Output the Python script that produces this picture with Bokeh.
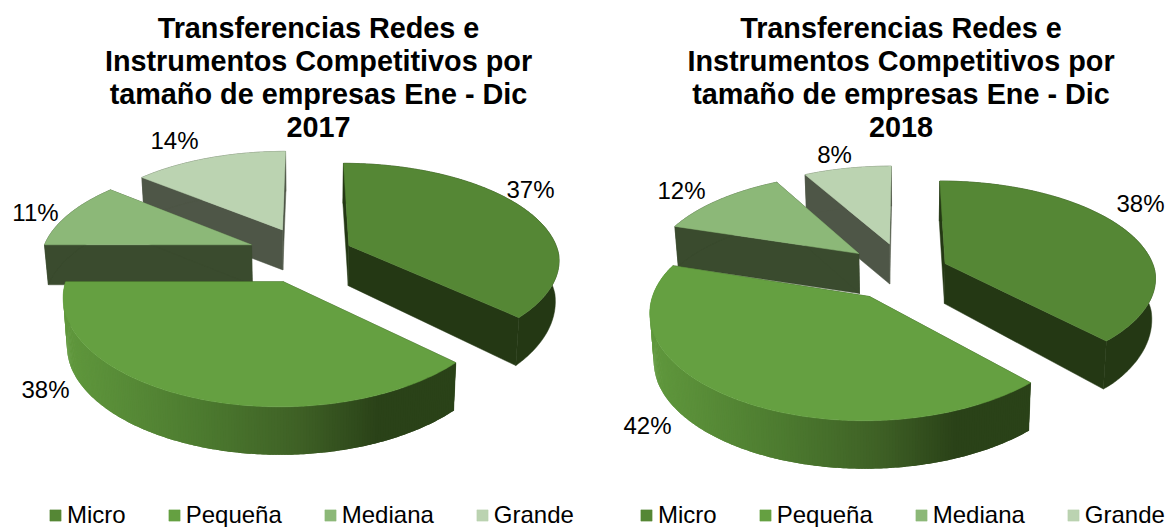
import math
from bokeh.core.properties import value
from bokeh.embed import file_html
from bokeh.layouts import row
from bokeh.models import Legend, LegendItem, Range1d
from bokeh.plotting import figure
from bokeh.resources import INLINE

# ---- data ----
CATEGORIES = ["Micro", "Pequeña", "Mediana", "Grande"]
SHARES_2017 = [37, 38, 11, 14]
SHARES_2018 = [38, 42, 12, 8]
TITLE_LINES = ["Transferencias Redes e", "Instrumentos Competitivos por", "tamaño de empresas Ene - Dic"]
YEARS = ["2017", "2018"]

# ---- style ----
TOP = ["#558735", "#65a041", "#8cb878", "#bbd3b1"]
WALL = ["#243814", "#2a4218", "#3a4b2e", "#4e5647"]
GRADIENT = [(0.0, (0x60, 0x98, 0x3d)), (0.35, (0x4c, 0x7a, 0x2f)), (0.6, (0x3e, 0x60, 0x25)),
            (0.8, (0x2a, 0x42, 0x18)), (1.0, (0x2a, 0x42, 0x18))]
DRAW_ORDER = [3, 2, 0, 1]
RX, RY, PERSP, PERSP_X_FRONT, DEPTH, DEPTH_FRONT, NARROW = 210, 97, 0.15, 0.13, 40, 8, 0.015
FONT = "Liberation Sans"


def grad(t):
    for (a, ca), (b, cb) in zip(GRADIENT, GRADIENT[1:]):
        if t <= b:
            f = (t - a) / (b - a)
            return "#%02x%02x%02x" % tuple(round(u + (v - u) * f) for u, v in zip(ca, cb))
    return "#2a4218"


def draw_pie(p, shares, cx, cy, explode, year, title_x, legend_x, labels):
    def proj(x, y, z):
        d = 1 + PERSP * y
        dx = 1 + (PERSP if y > 0 else PERSP_X_FRONT) * y
        h = DEPTH + DEPTH_FRONT * min(1, max(0, -y) / 0.6)
        return cx + RX * x / dx / (1 + NARROW * z), cy - RY * y / d + h * z

    total = sum(shares)
    edges = [0]
    for s in shares:
        edges.append(edges[-1] + 360 * s / total)

    tops = {}
    for i in DRAW_ORDER:
        a0, a1 = math.radians(edges[i]), math.radians(edges[i + 1])
        mid = (a0 + a1) / 2
        ox, oy = explode[i] * math.sin(mid), explode[i] * math.cos(mid)
        n = max(4, int((edges[i + 1] - edges[i]) * 1.5))
        angs = [a0 + (a1 - a0) * k / n for k in range(n + 1)]
        rim = [(ox + math.sin(a), oy + math.cos(a)) for a in angs]
        apex = (ox, oy)

        # radial walls
        for e in (rim[0], rim[-1]):
            pts = [proj(*apex, 0), proj(*e, 0), proj(*e, 1), proj(*apex, 1)]
            p.patch([q[0] for q in pts], [q[1] for q in pts], fill_color=WALL[i], line_color=WALL[i], line_width=0.5)

        # outer wall
        upper = [proj(*r, 0) for r in rim]
        lower = [proj(*r, 1) for r in rim]
        if i == 1:
            # shaded strip by strip from left to right, each overlapping the next to hide seams
            lo, hi = min(q[0] for q in upper), max(q[0] for q in upper)
            for k in range(n, 0, -1):
                k2 = max(0, k - 2)
                xs = [upper[k][0], upper[k - 1][0], upper[k2][0], lower[k2][0], lower[k - 1][0], lower[k][0]]
                ys = [upper[k][1], upper[k - 1][1], upper[k2][1], lower[k2][1], lower[k - 1][1], lower[k][1]]
                c = grad((upper[k][0] - lo) / (hi - lo))
                p.patch(xs, ys, fill_color=c, line_color=None)
        else:
            pts = upper + lower[::-1]
            p.patch([q[0] for q in pts], [q[1] for q in pts], fill_color=WALL[i], line_color=WALL[i], line_width=0.5)

        # top face
        pts = [proj(*apex, 0)] + upper
        tops[i] = p.patch([q[0] for q in pts], [q[1] for q in pts], fill_color=TOP[i], line_color=TOP[i], line_width=0.5)

    # data labels
    p.text([l[0] for l in labels], [l[1] for l in labels], text=[f"{s}%" for s in shares],
           text_font=value(FONT), text_font_size="24px", text_color="#000000",
           text_align="center", text_baseline="middle")

    # title
    lines = TITLE_LINES + [year]
    p.text([title_x] * 4, [27 + 33 * k for k in range(4)], text=lines,
           text_font=value(FONT), text_font_size="28.8px", text_font_style="bold", text_color="#000000",
           text_align="center", text_baseline="middle")

    legend = Legend(items=[LegendItem(label=c, renderers=[tops[k]]) for k, c in enumerate(CATEGORIES)],
                    orientation="horizontal", location=(legend_x, -2), margin=0, padding=0, spacing=41,
                    glyph_width=14, glyph_height=14, label_standoff=5, label_height=14,
                    label_text_font=FONT, label_text_font_size="24px", label_text_color="#000000",
                    background_fill_alpha=0, border_line_alpha=0)
    p.add_layout(legend, "center")


def make_fig(x0, x1):
    p = figure(width=x1 - x0, height=527, x_range=Range1d(x0, x1), y_range=Range1d(527, 0),
               toolbar_location=None, output_backend="svg", min_border=0,
               x_axis_location=None, y_axis_location=None)
    p.grid.visible = False
    p.outline_line_color = None
    return p


left = make_fig(0, 606)
draw_pie(left, SHARES_2017, 306.5, 253.5, [0.22, 0.295, 0.285, 0.285], YEARS[0], 318, 48,
         [(530, 189), (45, 389), (35, 212), (174, 140)])
right = make_fig(606, 1168)
draw_pie(right, SHARES_2018, 904, 270.5, [0.21, 0.30, 0.29, 0.30], YEARS[1], 900.5, 33,
         [(1140, 203), (647, 425), (681, 190), (834, 154)])

layout = row(left, right, spacing=0)
open("out.html", "w").write(file_html(layout, INLINE))
